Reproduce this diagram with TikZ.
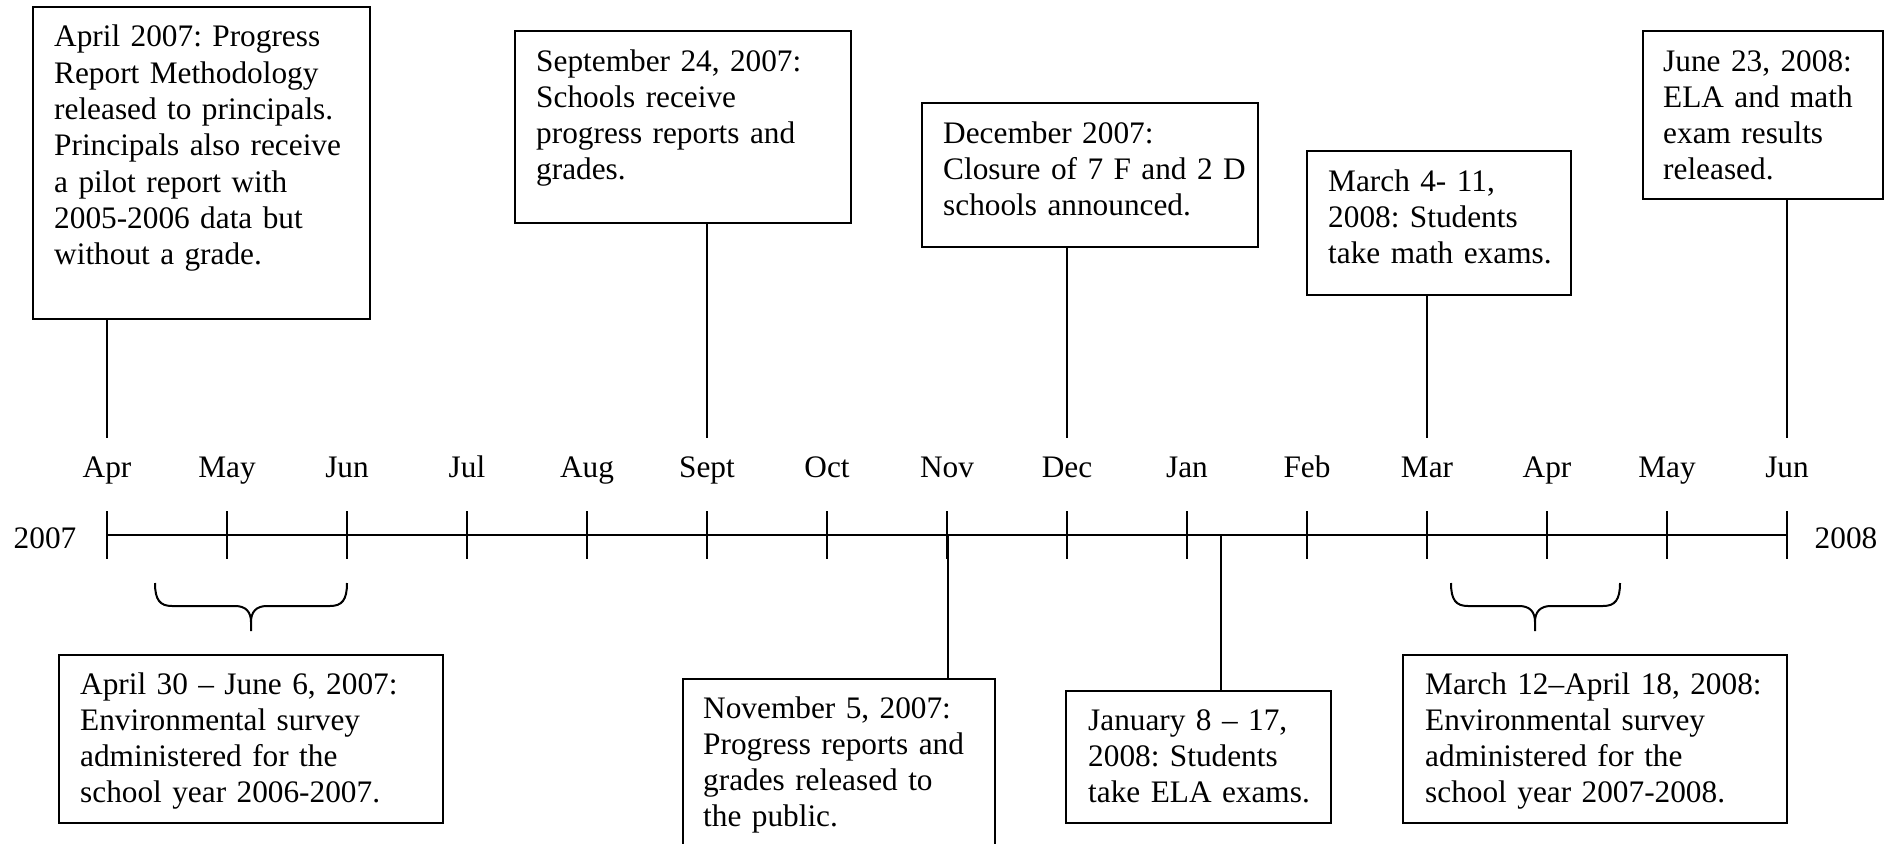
\documentclass[tikz,border=0pt]{standalone}
\usepackage{fontspec}
\setmainfont{Liberation Serif}
\frenchspacing
\begin{document}
\frenchspacing
\begin{tikzpicture}[x=1pt,y=-1pt,
  box/.style={draw, line width=2.4pt, rectangle, anchor=north west, inner sep=0pt, outer sep=0pt},
  txt/.style={anchor=base west, inner sep=0pt, align=left, font=\fontsize{31.3pt}{36.3pt}\selectfont\frenchspacing},
  lbl/.style={anchor=base, inner sep=0pt, font=\fontsize{31.3pt}{36.3pt}\selectfont},
  stem/.style={line width=1.6pt},
  axisline/.style={line width=2pt},
  tickline/.style={line width=1.6pt},
  brace/.style={line width=2pt, line join=round}]
\useasboundingbox (0,0) rectangle (1900,843);
\fill[white] (0,0) rectangle (1900,843);
\clip (0,0) rectangle (1900,843);

% axis, ticks and month labels
\foreach \m [count=\i from 0] in {Apr,May,Jun,Jul,Aug,Sept,Oct,Nov,Dec,Jan,Feb,Mar,Apr,May,Jun}{
  \coordinate (a\i) at (107+120*\i,535);
  \draw[tickline] (107+120*\i,511) -- (107+120*\i,559);
  \node[lbl] (m\i) at (107+120*\i,477) {\m};
}
\draw[axisline] (a0) -- (a14);
\node[lbl] (y2007) at (45,548) {2007};
\node[lbl] (y2008) at (1846,548) {2008};

% upper boxes
\node[box, minimum width=337pt, minimum height=312pt] (b1) at (33,7) {};
\node[txt, text width=312pt] (t1) at (54,47) {April 2007: Progress\\Report Methodology\\released to principals.\\Principals also receive\\a pilot report with\\2005-2006 data but\\without a grade.};

\node[box, minimum width=336pt, minimum height=192pt] (b2) at (515,31) {};
\node[txt, text width=310pt] (t2) at (536,71) {September 24, 2007:\\Schools receive\\progress reports and\\grades.};

\node[box, minimum width=336pt, minimum height=144pt] (b3) at (922,103) {};
\node[txt, text width=310pt] (t3) at (943,143) {December 2007:\\Closure of 7 F and 2 D\\schools announced.};

\node[box, minimum width=264pt, minimum height=144pt] (b4) at (1307,151) {};
\node[txt, text width=240pt] (t4) at (1328,191) {March 4- 11,\\2008: Students\\take math exams.};

\node[box, minimum width=240pt, minimum height=168pt] (b5) at (1643,31) {};
\node[txt, text width=215pt] (t5) at (1663,71) {June 23, 2008:\\ELA and math\\exam results\\released.};

% lower boxes
\node[box, minimum width=384pt, minimum height=168pt] (b6) at (59,655) {};
\node[txt, text width=360pt] (t6) at (80,694) {April 30 -- June 6, 2007:\\Environmental survey\\administered for the\\school year 2006-2007.};

\node[box, minimum width=312pt, minimum height=240pt] (b7) at (683,679) {};
\node[txt, text width=288pt] (t7) at (703,718) {November 5, 2007:\\Progress reports and\\grades released to\\the public.};

\node[box, minimum width=265pt, minimum height=132pt] (b8) at (1066,691) {};
\node[txt, text width=240pt] (t8) at (1088,730) {January 8 -- 17,\\2008: Students\\take ELA exams.};

\node[box, minimum width=384pt, minimum height=168pt] (b9) at (1403,655) {};
\node[txt, text width=360pt] (t9) at (1425,694) {March 12--April 18, 2008:\\Environmental survey\\administered for the\\school year 2007-2008.};

% stems from upper boxes
\coordinate (e0) at (107,438);
\coordinate (e5) at (707,438);
\coordinate (e8) at (1067,438);
\coordinate (e11) at (1427,438);
\coordinate (e14) at (1787,438);
\draw[stem] (b1.south -| e0) -- (e0);
\draw[stem] (b2.south -| e5) -- (e5);
\draw[stem] (b3.south -| e8) -- (e8);
\draw[stem] (b4.south -| e11) -- (e11);
\draw[stem] (b5.south -| e14) -- (e14);

% stems to lower boxes
\coordinate (nov) at (948,535);
\coordinate (jan) at (1221,535);
\draw[stem] (nov) -- (nov |- b7.north);
\draw[stem] (jan) -- (jan |- b8.north);

% braces
\draw[brace] (155,583) .. controls (155,600) and (160,606) .. (172,606) -- (235,606)
  .. controls (246,606) and (251,612) .. (251,622) -- (251,631)
  (251,622) .. controls (251,612) and (256,606) .. (267,606) -- (330,606)
  .. controls (342,606) and (347,600) .. (347,583);
\draw[brace] (1451,583) .. controls (1451,600) and (1456,606) .. (1468,606) -- (1519,606)
  .. controls (1530,606) and (1535,612) .. (1535,622) -- (1535,631)
  (1535,622) .. controls (1535,612) and (1540,606) .. (1551,606) -- (1603,606)
  .. controls (1615,606) and (1620,600) .. (1620,583);
\end{tikzpicture}
\end{document}
